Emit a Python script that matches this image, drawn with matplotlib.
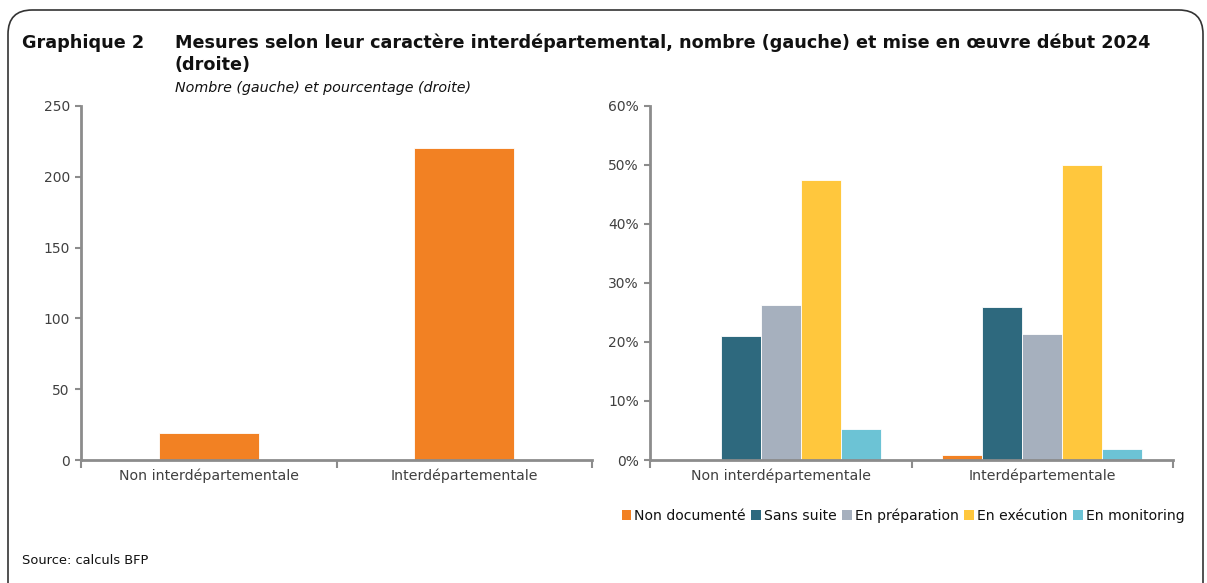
import matplotlib
matplotlib.use("Agg")
import matplotlib.pyplot as plt
from matplotlib.patches import FancyBboxPatch, Patch
from matplotlib.ticker import FuncFormatter, FixedLocator
import numpy as np

plt.rcParams['font.family'] = ['DejaVu Sans']

categories = ["Non interdépartementale", "Interdépartementale"]
counts = [19, 220]
statuses = ["Non documenté", "Sans suite", "En préparation", "En exécution", "En monitoring"]
shares = {
    "Non documenté": [0.0, 0.9],
    "Sans suite": [21.1, 25.9],
    "En préparation": [26.3, 21.4],
    "En exécution": [47.4, 50.0],
    "En monitoring": [5.3, 1.8],
}
colors = ["#F28123", "#2E697E", "#A6B0BE", "#FFC73D", "#6CC3D5"]
left_color = "#F28123"
axis_gray = "#8C8C8C"
text_col = "#404040"

W, H = 1207, 583
fig = plt.figure(figsize=(W / 100, H / 100), dpi=100)

# frame
frame = FancyBboxPatch((8 / W, -0.1), (1203 - 8) / W, (H - 10) / H + 0.1,
                       boxstyle="round,pad=0,rounding_size=0.02",
                       transform=fig.transFigure, fill=False, ec="#333333", lw=1.2,
                       mutation_aspect=W / H)
fig.patches.append(frame)

def fx(px):
    return px / W

def fy(py):
    return 1 - py / H

fig.text(fx(22), fy(43), "Graphique 2", fontsize=12.7, fontweight="bold", va="center", color="#111111")
fig.text(fx(175), fy(43), "Mesures selon leur caractère interdépartemental, nombre (gauche) et mise en œuvre début 2024",
         fontsize=12.7, fontweight="bold", va="center", color="#111111")
fig.text(fx(175), fy(65), "(droite)", fontsize=12.7, fontweight="bold", va="center", color="#111111")
fig.text(fx(175), fy(88), "Nombre (gauche) et pourcentage (droite)", fontsize=10.3, style="italic",
         va="center", color="#111111")
fig.text(fx(22), fy(561), "Source: calculs BFP", fontsize=9.4, va="center", color="#111111")

def style_axes(ax):
    for s in ["top", "right"]:
        ax.spines[s].set_visible(False)
    for s in ["left", "bottom"]:
        ax.spines[s].set_color(axis_gray)
        ax.spines[s].set_linewidth(2)
    ax.tick_params(axis="y", colors=axis_gray, labelcolor=text_col, labelsize=10,
                   length=4, width=1.5, pad=4)
    ax.set_xlim(-0.5, 1.5)
    ax.xaxis.set_major_locator(FixedLocator([-0.5, 0.5, 1.5]))
    ax.xaxis.set_minor_locator(FixedLocator([0, 1]))
    ax.xaxis.set_major_formatter(FuncFormatter(lambda v, p: ""))
    ax.xaxis.set_minor_formatter(FuncFormatter(lambda v, p: categories[int(round(v))]))
    ax.tick_params(axis="x", which="major", colors=axis_gray, length=6, width=1.5)
    ax.tick_params(axis="x", which="minor", length=0, labelcolor=text_col, labelsize=10.2, pad=6)

# left axes
axL = fig.add_axes([fx(81), fy(460), fx(592 - 81), (460 - 106) / H])
x = np.arange(len(categories))
axL.bar(x, counts, width=0.39, color=left_color, edgecolor="white", linewidth=0.6)
axL.set_ylim(0, 250)
axL.set_yticks([0, 50, 100, 150, 200, 250])
style_axes(axL)

# right axes
axR = fig.add_axes([fx(650), fy(460), fx(1173 - 650), (460 - 106) / H])
n = len(statuses)
bw = 0.153
for i, (st, c) in enumerate(zip(statuses, colors)):
    offs = (i - (n - 1) / 2) * bw
    axR.bar(x + offs, shares[st], width=bw, color=c, edgecolor="white", linewidth=0.6)
axR.set_ylim(0, 60)
axR.set_yticks([0, 10, 20, 30, 40, 50, 60])
axR.yaxis.set_major_formatter(FuncFormatter(lambda v, p: f"{int(v)}%"))
style_axes(axR)

handles = [Patch(facecolor=c, edgecolor="none") for c in colors]
fig.legend(handles, statuses, loc="center", bbox_to_anchor=(fx(903), fy(516)), ncol=5,
           frameon=False, fontsize=10.1, handlelength=0.7, handleheight=0.7,
           handletextpad=0.2, columnspacing=0.4, labelcolor="#111111")

fig.savefig("out.png", dpi=100)
